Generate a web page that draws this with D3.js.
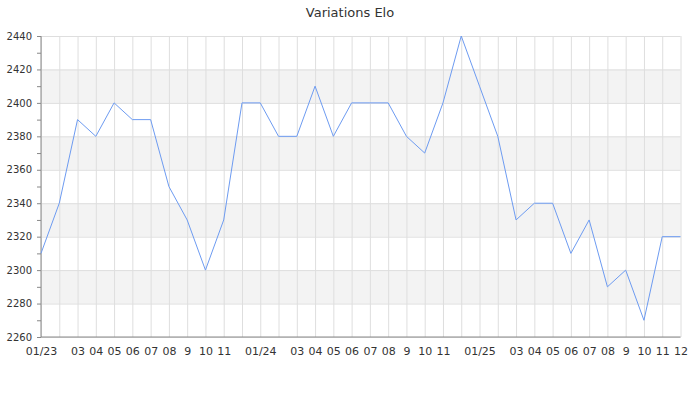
<!DOCTYPE html>
<html>
<head>
<meta charset="utf-8">
<script src="https://cdn.jsdelivr.net/npm/d3@7"></script>
<style>
  body { margin: 0; background: #fff; }
  svg { display: block; font-family: "DejaVu Sans", sans-serif; }
</style>
</head>
<body>
<svg id="chart" width="700" height="400"></svg>
<script>
const title = "Variations Elo";
const months = ["2023-01","2023-02","2023-03","2023-04","2023-05","2023-06","2023-07","2023-08","2023-09","2023-10","2023-11","2023-12",
                "2024-01","2024-02","2024-03","2024-04","2024-05","2024-06","2024-07","2024-08","2024-09","2024-10","2024-11","2024-12",
                "2025-01","2025-02","2025-03","2025-04","2025-05","2025-06","2025-07","2025-08","2025-09","2025-10","2025-11","2025-12"];
const tickLabels = ["01/23","","03","04","05","06","07","08","9","10","11","",
                    "01/24","","03","04","05","06","07","08","9","10","11","",
                    "01/25","","03","04","05","06","07","08","9","10","11","12"];
const elo = [2310,2340,2390,2380,2400,2390,2390,2350,2330,2300,2330,2400,
             2400,2380,2380,2410,2380,2400,2400,2400,2380,2370,2400,2440,
             2410,2380,2330,2340,2340,2310,2330,2290,2300,2270,2320,2320];
const yMin = 2260, yMax = 2440, yStep = 20, yMinor = 10;
const bands = [[2280,2300],[2320,2340],[2360,2380],[2400,2420]];

const svg = d3.select("#chart");
const L = 41, R = 680.5, T = 36, B = 337;

const x = d3.scalePoint().domain(months).range([L, R]);
const y = d3.scaleLinear().domain([yMin, yMax]).range([B, T]);

// bands
svg.append("g").selectAll("rect").data(bands).join("rect")
  .attr("x", L).attr("width", R - L)
  .attr("y", d => y(d[1])).attr("height", d => y(d[0]) - y(d[1]))
  .attr("fill", "#f3f3f3");

// grid
const yTicks = d3.range(yMin, yMax + 1, yStep);
svg.append("g").call(d3.axisLeft(y).tickValues(yTicks).tickSize(-(R - L)).tickFormat(""))
  .attr("transform", `translate(${L},0)`)
  .call(g => g.select(".domain").remove())
  .call(g => g.selectAll("line").attr("stroke", "#dedede"));
svg.append("g").call(d3.axisBottom(x).tickSize(-(B - T)).tickFormat(""))
  .attr("transform", `translate(0,${B})`)
  .call(g => g.select(".domain").remove())
  .call(g => g.selectAll("line").attr("stroke", "#dedede"));

// y axis
const yAx = svg.append("g").attr("transform", `translate(${L},0)`)
  .call(d3.axisLeft(y).tickValues(d3.range(yMin, yMax + 1, yMinor)).tickSize(4).tickPadding(5)
    .tickFormat(d => (d % yStep === 0 ? d : "")));
yAx.select(".domain").attr("stroke", "#888").attr("d", `M0,${T}V${B}`);
yAx.selectAll("line").attr("stroke", "#888");
yAx.selectAll("text").attr("fill", "#333").style("font-size", "10px").style("font-family", "DejaVu Sans");

// x axis
const xAx = svg.append("g").attr("transform", `translate(0,${B})`)
  .call(d3.axisBottom(x).tickSize(0).tickPadding(10).tickFormat((d, i) => tickLabels[i]));
xAx.select(".domain").attr("stroke", "#888").attr("d", `M${L},0H${R}`);
xAx.selectAll("text").attr("fill", "#333").style("font-size", "11px").style("font-family", "DejaVu Sans");

// line
svg.append("path").datum(elo)
  .attr("fill", "none").attr("stroke", "#6d9bf1").attr("stroke-width", 1)
  .attr("d", d3.line().x((d, i) => x(months[i])).y(d => y(d)));

// title
svg.append("text").attr("x", 350).attr("y", 17).attr("text-anchor", "middle")
  .attr("fill", "#333").style("font-size", "13px").text(title);
</script>
</body>
</html>
